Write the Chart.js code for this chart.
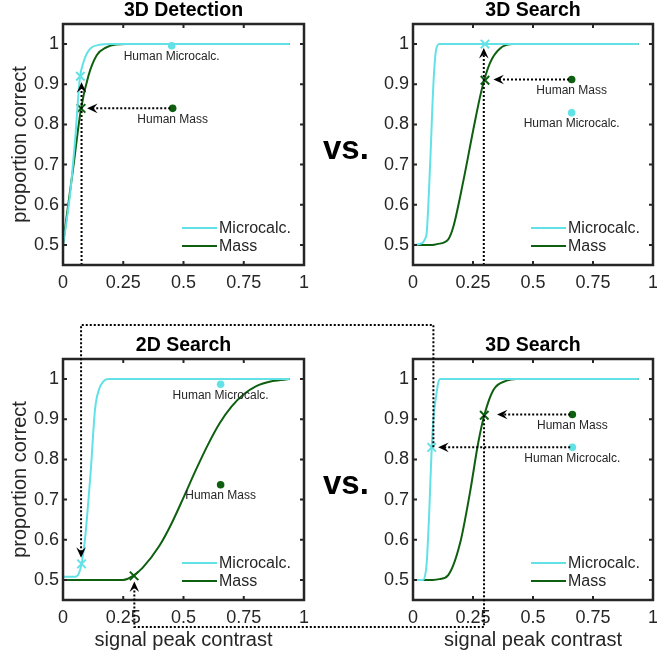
<!DOCTYPE html>
<html><head><meta charset="utf-8">
<script src="https://cdn.jsdelivr.net/npm/chart.js@4.4.1/dist/chart.umd.min.js"></script>
<style>
html,body{margin:0;padding:0;background:#fff;width:657px;height:657px;overflow:hidden;position:relative}
canvas{position:absolute}
.vs{position:absolute;font:bold 33px "Liberation Sans",Arial,sans-serif;color:#000;line-height:1;white-space:nowrap}
</style></head><body>
<canvas id="c1" width="330" height="310" style="left:0;top:0"></canvas>
<canvas id="c2" width="340" height="310" style="left:330px;top:0"></canvas>
<canvas id="c3" width="330" height="327" style="left:0;top:330px"></canvas>
<canvas id="c4" width="340" height="327" style="left:330px;top:330px"></canvas>
<canvas id="ov" width="657" height="657" style="left:0;top:0;pointer-events:none"></canvas>
<div class="vs" style="left:323px;top:131px">vs.</div>
<div class="vs" style="left:323px;top:466px">vs.</div>
<script>
// ---------- data ----------
const xTickVals=[0,0.25,0.5,0.75,1];
const xTickLabels=['0','0.25','0.5','0.75','1'];
const yTickVals=[0.5,0.6,0.7,0.8,0.9,1];
const yTickLabels=['0.5','0.6','0.7','0.8','0.9','1'];
const seriesNames=['Microcalc.','Mass'];
const humanNames=['Human Microcalc.','Human Mass'];
const panelTitles=['3D Detection','3D Search','2D Search','3D Search'];

// Panel 1: 3D Detection
const p1MicroX=[0,0.015,0.03,0.05,0.07,0.085,0.1,0.12,0.15,0.2,0.94];
const p1MicroY=[0.5,0.56,0.63,0.76,0.915,0.955,0.978,0.992,0.998,1,1];
const p1MassX=[0,0.015,0.043,0.075,0.105,0.14,0.18,0.22,0.26,0.94];
const p1MassY=[0.5,0.57,0.695,0.84,0.92,0.972,0.992,0.999,1,1];
const p1ModelX=[0.072,0.075], p1ModelY=[0.92,0.84];
const p1HumanX=[0.451,0.455], p1HumanY=[0.996,0.84];
const p1Arrows=[[0.077,0.45,0.077,0.905],[0.445,0.84,0.1,0.84]];

// Panel 2: 3D Search (top)
const p2MicroX=[0,0.04,0.05,0.057,0.071,0.085,0.096,0.11,0.94];
const p2MicroY=[0.5,0.505,0.515,0.53,0.695,0.9,0.985,1,1];
const p2MassX=[0,0.08,0.1,0.147,0.168,0.21,0.251,0.286,0.32,0.3625,0.418,0.94];
const p2MassY=[0.5,0.5,0.502,0.514,0.545,0.66,0.786,0.886,0.952,0.989,1,1];
const p2ModelX=[0.3,0.3], p2ModelY=[1.0,0.91];
const p2HumanX=[0.661,0.661], p2HumanY=[0.829,0.912];
const p2Arrows=[[0.295,0.45,0.295,0.99],[0.65,0.912,0.335,0.912]];

// Panel 3: 2D Search
const p3MicroX=[0,0.05,0.065,0.077,0.091,0.103,0.115,0.133,0.15,0.166,0.19,0.94];
const p3MicroY=[0.508,0.508,0.515,0.54,0.6,0.68,0.77,0.925,0.975,0.993,1,1];
const p3MassX=[0,0.25,0.29,0.33,0.4,0.45,0.5,0.55,0.6,0.65,0.7,0.75,0.8,0.87,0.94];
const p3MassY=[0.5,0.5,0.51,0.53,0.585,0.64,0.705,0.772,0.835,0.89,0.932,0.962,0.982,0.995,1.0];
const p3ModelX=[0.077,0.295], p3ModelY=[0.54,0.51];
const p3HumanX=[0.654,0.654], p3HumanY=[0.987,0.737];
const p3Arrows=[];

// Panel 4: 3D Search (bottom)
const p4MicroX=[0,0.042,0.05,0.057,0.068,0.078,0.088,0.096,0.105,0.1125,0.94];
const p4MicroY=[0.5,0.5,0.51,0.541,0.674,0.83,0.92,0.956,0.99,1,1];
const p4MassX=[0,0.083,0.11,0.147,0.196,0.2375,0.272,0.297,0.335,0.39,0.43,0.94];
const p4MassY=[0.5,0.5,0.502,0.512,0.591,0.718,0.842,0.91,0.973,0.996,1,1];
const p4ModelX=[0.078,0.297], p4ModelY=[0.83,0.91];
const p4HumanX=[0.664,0.664], p4HumanY=[0.83,0.912];
const p4Arrows=[[0.655,0.912,0.35,0.912],[0.655,0.83,0.105,0.83]];

// cross-panel links: [panel4 x, panel4 y] -> [panel3 x, panel3 y] (arrow tip)
const linkMicro=[0.085,0.83,0.075,0.555];
const linkMass=[0.296,0.91,0.296,0.496];

// ---------- styling ----------
const FONT='"Liberation Sans", Arial, Helvetica, sans-serif';
const CYAN='#62e2e6', GREEN='#0e5f10', AXIS='#262626';
Chart.defaults.font.family=FONT;
Chart.defaults.color=AXIS;

function zip(xs,ys){return xs.map((x,i)=>({x:x,y:ys[i]}));}

function arrowHead(ctx,x,y,ang){
  const L=10.5,W=4.8,N=6.5;
  ctx.save();ctx.translate(x,y);ctx.rotate(ang);ctx.fillStyle='#000';
  ctx.beginPath();ctx.moveTo(0,0);ctx.lineTo(-L,-W);ctx.lineTo(-N,0);ctx.lineTo(-L,W);ctx.closePath();ctx.fill();
  ctx.restore();
}
function dottedPath(ctx,pts){
  const n=pts.length;
  const a=pts[n-2],b=pts[n-1];
  const ang=Math.atan2(b[1]-a[1],b[0]-a[0]);
  ctx.save();ctx.strokeStyle='#000';ctx.lineWidth=2;ctx.setLineDash([2,2]);
  ctx.beginPath();ctx.moveTo(pts[0][0],pts[0][1]);
  for(let i=1;i<n-1;i++)ctx.lineTo(pts[i][0],pts[i][1]);
  ctx.lineTo(b[0]-Math.cos(ang)*6,b[1]-Math.sin(ang)*6);
  ctx.stroke();ctx.restore();
  arrowHead(ctx,b[0],b[1],ang);
}

const panelPlugin={id:'panelDeco',afterDraw(chart){
  const p=chart.options.plugins.panelDeco;
  const ctx=chart.ctx,a=chart.chartArea,xs=chart.scales.x,ys=chart.scales.y;
  ctx.save();
  // human labels
  ctx.fillStyle=AXIS;ctx.font='12px '+FONT;ctx.textAlign='center';ctx.textBaseline='middle';
  p.humanX.forEach((x,i)=>{ctx.fillText(humanNames[i],xs.getPixelForValue(x),ys.getPixelForValue(p.humanY[i])+11);});
  // arrows
  p.arrows.forEach(r=>dottedPath(ctx,[[xs.getPixelForValue(r[0]),ys.getPixelForValue(r[1])],[xs.getPixelForValue(r[2]),ys.getPixelForValue(r[3])]]));
  // legend
  ctx.font='16px '+FONT;ctx.textAlign='left';ctx.textBaseline='middle';
  [0,1].forEach(i=>{
    const ds=chart.data.datasets[i];
    const y=a.bottom-37+18*i;
    ctx.strokeStyle=ds.borderColor;ctx.lineWidth=2;
    ctx.beginPath();ctx.moveTo(a.right-122,y);ctx.lineTo(a.right-87,y);ctx.stroke();
    ctx.fillStyle=AXIS;ctx.fillText(ds.label,a.right-85,y+1);
  });
  // frame
  ctx.strokeStyle=AXIS;ctx.lineWidth=2.5;
  ctx.strokeRect(a.left,a.top,a.right-a.left,a.bottom-a.top);
  ctx.lineWidth=2;ctx.beginPath();
  xTickVals.forEach(v=>{const X=xs.getPixelForValue(v);ctx.moveTo(X,a.bottom);ctx.lineTo(X,a.bottom-4);ctx.moveTo(X,a.top);ctx.lineTo(X,a.top+4);});
  yTickVals.forEach(v=>{const Y=ys.getPixelForValue(v);ctx.moveTo(a.left,Y);ctx.lineTo(a.left+4,Y);ctx.moveTo(a.right,Y);ctx.lineTo(a.right-4,Y);});
  ctx.stroke();
  // title
  ctx.fillStyle='#000';ctx.font='bold 19.5px '+FONT;ctx.textAlign='center';ctx.textBaseline='middle';
  ctx.fillText(p.title,(a.left+a.right)/2,a.top-13);
  ctx.restore();
}};

function makeChart(id,p){
  const datasets=[
    {label:seriesNames[0],data:zip(p.microX,p.microY),showLine:true,borderColor:CYAN,borderWidth:2,pointRadius:0,cubicInterpolationMode:'monotone'},
    {label:seriesNames[1],data:zip(p.massX,p.massY),showLine:true,borderColor:GREEN,borderWidth:2,pointRadius:0,cubicInterpolationMode:'monotone'},
    {label:'m1',data:[{x:p.modelX[0],y:p.modelY[0]}],pointStyle:'crossRot',pointRadius:6,borderColor:CYAN,borderWidth:2,showLine:false},
    {label:'m2',data:[{x:p.modelX[1],y:p.modelY[1]}],pointStyle:'crossRot',pointRadius:6,borderColor:GREEN,borderWidth:2,showLine:false},
    {label:'h1',data:[{x:p.humanX[0],y:p.humanY[0]}],pointStyle:'circle',pointRadius:3.8,backgroundColor:CYAN,borderWidth:0,showLine:false},
    {label:'h2',data:[{x:p.humanX[1],y:p.humanY[1]}],pointStyle:'circle',pointRadius:3.8,backgroundColor:GREEN,borderWidth:0,showLine:false}
  ];
  return new Chart(document.getElementById(id),{
    type:'scatter',
    data:{datasets:datasets},
    plugins:[panelPlugin],
    options:{
      responsive:false,animation:false,
      layout:{padding:{left:0,top:p.padTop,right:p.padRight,bottom:0}},
      plugins:{legend:{display:false},tooltip:{enabled:false},title:{display:false},
        panelDeco:{title:p.title,humanX:p.humanX,humanY:p.humanY,arrows:p.arrows}},
      scales:{
        x:{type:'linear',min:0,max:1,
          afterBuildTicks:s=>{s.ticks=xTickVals.map(v=>({value:v}));},
          afterFit:s=>{s.height=p.xHeight;},
          grid:{display:false,drawTicks:false},border:{display:false},
          ticks:{callback:(v,i)=>xTickLabels[i],font:{size:18},padding:7,autoSkip:false,maxRotation:0,color:AXIS},
          title:{display:p.xTitle,text:'signal peak contrast',font:{size:20},color:AXIS,padding:{top:0,bottom:5}}},
        y:{type:'linear',min:0.45,max:1.05,
          afterBuildTicks:s=>{s.ticks=yTickVals.map(v=>({value:v}));},
          afterFit:s=>{s.width=p.yWidth;},
          grid:{display:false,drawTicks:false},border:{display:false},
          ticks:{callback:(v,i)=>yTickLabels[i],font:{size:18},padding:4,autoSkip:false,color:AXIS},
          title:{display:p.yTitle,text:'proportion correct',font:{size:20},color:AXIS,padding:{top:8,bottom:0}}}
      }
    }
  });
}

const ch1=makeChart('c1',{microX:p1MicroX,microY:p1MicroY,massX:p1MassX,massY:p1MassY,modelX:p1ModelX,modelY:p1ModelY,humanX:p1HumanX,humanY:p1HumanY,arrows:p1Arrows,title:panelTitles[0],padTop:24,padRight:26,xHeight:45,yWidth:63,xTitle:false,yTitle:true});
const ch2=makeChart('c2',{microX:p2MicroX,microY:p2MicroY,massX:p2MassX,massY:p2MassY,modelX:p2ModelX,modelY:p2ModelY,humanX:p2HumanX,humanY:p2HumanY,arrows:p2Arrows,title:panelTitles[1],padTop:24,padRight:17,xHeight:45,yWidth:83,xTitle:false,yTitle:false});
const ch3=makeChart('c3',{microX:p3MicroX,microY:p3MicroY,massX:p3MassX,massY:p3MassY,modelX:p3ModelX,modelY:p3ModelY,humanX:p3HumanX,humanY:p3HumanY,arrows:p3Arrows,title:panelTitles[2],padTop:29,padRight:26,xHeight:57,yWidth:63,xTitle:true,yTitle:true});
const ch4=makeChart('c4',{microX:p4MicroX,microY:p4MicroY,massX:p4MassX,massY:p4MassY,modelX:p4ModelX,modelY:p4ModelY,humanX:p4HumanX,humanY:p4HumanY,arrows:p4Arrows,title:panelTitles[3],padTop:29,padRight:17,xHeight:57,yWidth:83,xTitle:true,yTitle:false});

// ---------- cross-panel links ----------
function pagePt(chart,x,y){
  const c=chart.canvas;
  return [c.offsetLeft+chart.scales.x.getPixelForValue(x),c.offsetTop+chart.scales.y.getPixelForValue(y)];
}
const ov=document.getElementById('ov').getContext('2d');
const ROUTE_TOP=325, ROUTE_BOTTOM=627;
(function(){
  const s1=pagePt(ch4,linkMicro[0],linkMicro[1]), t1=pagePt(ch3,linkMicro[2],linkMicro[3]);
  dottedPath(ov,[s1,[s1[0],ROUTE_TOP],[t1[0],ROUTE_TOP],t1]);
  const s2=pagePt(ch4,linkMass[0],linkMass[1]), t2=pagePt(ch3,linkMass[2],linkMass[3]);
  dottedPath(ov,[s2,[s2[0],ROUTE_BOTTOM],[t2[0],ROUTE_BOTTOM],t2]);
})();
</script>
</body></html>
